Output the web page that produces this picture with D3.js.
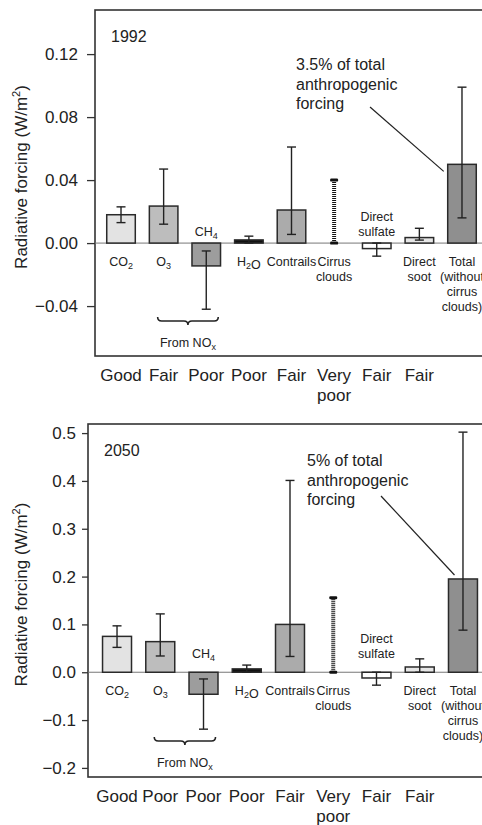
<!DOCTYPE html>
<html>
<head>
<meta charset="utf-8">
<script src="https://cdn.jsdelivr.net/npm/d3@7"></script>
<style>
  body { margin: 0; background: #fff; }
  svg { display: block; }
  text { font-family: "Liberation Sans", Arial, sans-serif; fill: #222; }
</style>
</head>
<body>
<div id="chart"></div>
<script>
// Sources shown in both panels
const sources = ["CO2", "O3", "CH4", "H2O", "Contrails", "Cirrus", "Sulfate", "Soot", "Total"];
const sourceLabels = [["CO_2"], ["O_3"], ["CH_4"], ["H_2O"], ["Contrails"], ["Cirrus", "clouds"],
    ["Direct", "sulfate"], ["Direct", "soot"], ["Total", "(without", "cirrus", "clouds)"]];

// 1992 values (W/m2); cirrus only has a range
const value1992 = [0.018, 0.0235, -0.0145, 0.002, 0.021, null, -0.0035, 0.0035, 0.050];
const low1992 = [0.013, 0.012, -0.042, 0.0, 0.0055, 0.0, -0.0083, 0.0019, 0.016];
const high1992 = [0.023, 0.047, -0.005, 0.0044, 0.061, 0.040, 0.0, 0.0094, 0.099];
const quality1992 = ["Good", "Fair", "Poor", "Poor", "Fair", "Very|poor", "Fair", "Fair", ""];
const ticks1992 = [-0.04, 0, 0.04, 0.08, 0.12];
const note1992 = ["3.5% of total", "anthropogenic", "forcing"];

// 2050 values (W/m2)
const value2050 = [0.075, 0.064, -0.046, 0.007, 0.100, null, -0.012, 0.011, 0.195];
const low2050 = [0.052, 0.034, -0.014, 0.0, 0.033, 0.0, -0.027, 0.0, 0.088];
const high2050 = [0.097, 0.122, -0.119, 0.015, 0.401, 0.156, 0.0, 0.028, 0.502];
const quality2050 = ["Good", "Poor", "Poor", "Poor", "Fair", "Very|poor", "Fair", "Fair", ""];
const ticks2050 = [-0.2, -0.1, 0, 0.1, 0.2, 0.3, 0.4, 0.5];
const note2050 = ["5% of total", "anthropogenic", "forcing"];

const W = 482, H = 825;
const barFill = d3.scaleOrdinal().domain(sources)
    .range(["#e3e3e3", "#bdbdbd", "#9d9d9d", "#111", "#ababab", "none", "#fff", "#e6e6e6", "#8f8f8f"]);

const svg = d3.select("#chart").append("svg")
    .attr("width", W).attr("height", H);

// write text with "_x" subscripts
function richText(sel, str) {
    str.split(/(_.)/).filter(s => s !== "").forEach(part => {
        if (part[0] === "_") {
            sel.append("tspan").attr("font-size", "0.72em").attr("dy", 3).text(part[1]);
            sel.append("tspan").attr("dy", -3).text("");
        } else {
            sel.append("tspan").text(part);
        }
    });
}

function drawPanel(cfg) {
    const g = svg.append("g");
    const y = d3.scaleLinear().domain(cfg.yDomain).range([cfg.bottom, cfg.top]);
    const x = d3.scalePoint().domain(sources).range(cfg.xRange).padding(0.5);
    const bw = x.step() * 0.67;

    // frame
    g.append("rect")
        .attr("x", cfg.left).attr("y", cfg.top)
        .attr("width", W + 20 - cfg.left).attr("height", cfg.bottom - cfg.top)
        .attr("fill", "none").attr("stroke", "#333").attr("stroke-width", 1.6);

    // zero line
    g.append("line")
        .attr("x1", cfg.left).attr("x2", W)
        .attr("y1", y(0)).attr("y2", y(0))
        .attr("stroke", "#777").attr("stroke-width", 1);

    // y axis
    const yAxis = g.append("g")
        .attr("transform", `translate(${cfg.left},0)`)
        .call(d3.axisLeft(y).tickValues(cfg.ticks).tickFormat(d3.format(cfg.fmt))
            .tickSize(cfg.tickSize).tickPadding(cfg.tickPad));
    yAxis.select(".domain").remove();
    yAxis.selectAll(".tick line").attr("stroke", "#333").attr("stroke-width", 1.3);
    yAxis.selectAll("text").style("font-size", "17px").attr("fill", "#222")
        .style("font-family", "Liberation Sans, Arial, sans-serif");

    g.append("text")
        .attr("transform", `translate(27,${(cfg.top + cfg.bottom) / 2 - 6}) rotate(-90)`)
        .attr("text-anchor", "middle")
        .style("font-size", "17px")
        .call(t => {
            t.append("tspan").text("Radiative forcing (W/m");
            t.append("tspan").attr("font-size", "0.65em").attr("dy", -7).text("2");
            t.append("tspan").attr("dy", 7).text(")");
        });

    // bars
    sources.forEach((s, i) => {
        const v = cfg.values[i];
        const cx = x(s);
        if (v === null) {
            // cirrus: range only, drawn as a hatched line
            g.append("line")
                .attr("x1", cx).attr("x2", cx)
                .attr("y1", y(cfg.low[i])).attr("y2", y(cfg.high[i]))
                .attr("stroke", "#111").attr("stroke-width", 4)
                .attr("stroke-dasharray", "1,1");
            [cfg.low[i], cfg.high[i]].forEach(e => {
                g.append("rect")
                    .attr("x", cx - 4).attr("y", y(e) - 1.5)
                    .attr("width", 8).attr("height", 3).attr("rx", 1.2)
                    .attr("fill", "#111");
            });
            return;
        }
        g.append("rect")
            .attr("x", cx - bw / 2)
            .attr("y", Math.min(y(v), y(0)))
            .attr("width", bw)
            .attr("height", Math.abs(y(v) - y(0)))
            .attr("fill", barFill(s))
            .attr("stroke", "#2a2a2a").attr("stroke-width", 1.5);

        // error bar
        g.append("line")
            .attr("x1", cx).attr("x2", cx)
            .attr("y1", y(cfg.low[i])).attr("y2", y(cfg.high[i]))
            .attr("stroke", "#222").attr("stroke-width", 1.4);
        [cfg.low[i], cfg.high[i]].forEach(e => {
            g.append("line")
                .attr("x1", cx - 4.5).attr("x2", cx + 4.5)
                .attr("y1", y(e)).attr("y2", y(e))
                .attr("stroke", "#222").attr("stroke-width", 1.4);
        });
    });

    // source labels: above zero for negative bars, below otherwise
    sources.forEach((s, i) => {
        const lines = sourceLabels[i];
        const neg = cfg.values[i] !== null && cfg.values[i] < 0;
        const lh = 15;
        const y0 = neg ? y(0) - cfg.aboveGap - (lines.length - 1) * lh : y(0) + 23;
        lines.forEach((ln, k) => {
            const t = g.append("text")
                .attr("x", x(s)).attr("y", y0 + k * lh)
                .attr("text-anchor", "middle")
                .style("font-size", "12.5px").attr("fill", "#333");
            richText(t, ln);
        });
    });

    // quality ratings under the frame
    sources.forEach((s, i) => {
        cfg.quality[i].split("|").forEach((ln, k) => {
            g.append("text")
                .attr("x", x(s)).attr("y", cfg.bottom + 25 + k * 20)
                .attr("text-anchor", "middle")
                .style("font-size", "17px")
                .text(ln);
        });
    });

    // brace under O3 and CH4
    const bx1 = x("O3") - 6, bx2 = x("CH4") + 12, by = cfg.braceY, q = 4;
    const mid = (bx1 + bx2) / 2;
    g.append("path")
        .attr("d", `M${bx1},${by} Q${bx1},${by + q} ${bx1 + q},${by + q} L${mid - q},${by + q}` +
            ` Q${mid},${by + q} ${mid},${by + 2 * q} Q${mid},${by + q} ${mid + q},${by + q}` +
            ` L${bx2 - q},${by + q} Q${bx2},${by + q} ${bx2},${by}`)
        .attr("fill", "none").attr("stroke", "#222").attr("stroke-width", 1.6);
    const ft = g.append("text")
        .attr("x", mid).attr("y", by + 30)
        .attr("text-anchor", "middle")
        .style("font-size", "12.5px").attr("fill", "#333");
    richText(ft, "From NO_x");

    // year
    g.append("text")
        .attr("x", cfg.left + 16).attr("y", cfg.top + 32)
        .style("font-size", "16px")
        .text(cfg.year);

    // note with leader line to the total bar
    cfg.note.forEach((ln, k) => {
        g.append("text")
            .attr("x", cfg.noteX).attr("y", cfg.noteY + k * 19.5)
            .style("font-size", "16px")
            .text(ln);
    });
    const ti = sources.indexOf("Total");
    g.append("line")
        .attr("x1", cfg.noteX + 74).attr("y1", cfg.noteY + 2 * 19.5 + cfg.leadStart)
        .attr("x2", x("Total") - bw / 2 + cfg.leadEnd[0])
        .attr("y2", y(cfg.values[ti]) + cfg.leadEnd[1])
        .attr("stroke", "#222").attr("stroke-width", 1.2);
}

drawPanel({
    year: "1992", values: value1992, low: low1992, high: high1992,
    quality: quality1992, ticks: ticks1992, note: note1992, fmt: ".2f",
    top: 10, bottom: 356, left: 95, yDomain: [-0.0717, 0.148], xRange: [99.7, 483.3],
    tickSize: 8, tickPad: 9, aboveGap: 7, braceY: 317,
    noteX: 296, noteY: 70, leadStart: -2, leadEnd: [-4, 7]
});

drawPanel({
    year: "2050", values: value2050, low: low2050, high: high2050,
    quality: quality2050, ticks: ticks2050, note: note2050, fmt: ".1f",
    top: 424, bottom: 777, left: 88, yDomain: [-0.219, 0.519], xRange: [95.4, 484.6],
    tickSize: 6, tickPad: 6, aboveGap: 14, braceY: 737,
    noteX: 307, noteY: 466, leadStart: -9, leadEnd: [6, -4]
});
</script>
</body>
</html>
